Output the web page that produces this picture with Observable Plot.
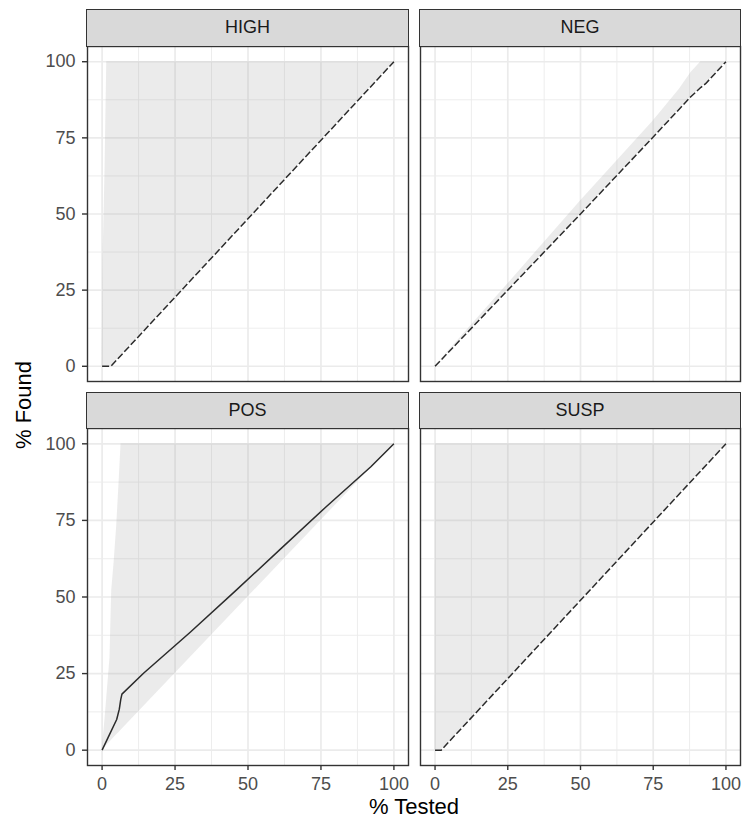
<!DOCTYPE html>
<html>
<head>
<meta charset="utf-8">
<script src="https://cdn.jsdelivr.net/npm/d3@7"></script>
<script src="https://cdn.jsdelivr.net/npm/@observablehq/plot@0.6"></script>
<style>
  html, body { margin: 0; padding: 0; background: #fff; }
  #wrap { position: relative; width: 742px; height: 821px; font-family: "Liberation Sans", Arial, sans-serif; }
  .strip { position: absolute; box-sizing: border-box; background: #D9D9D9; border: 1.4px solid #333333;
           color: #1A1A1A; font-size: 18px; display: flex; align-items: center; justify-content: center; }
  .panel { position: absolute; }
  .panel svg { display: block; overflow: visible; }
  .title { position: absolute; font-size: 22px; line-height: 1; color: #000; white-space: nowrap; }
</style>
</head>
<body>
<div id="wrap"></div>
<script>
// ---------- data ----------
const facets = ["HIGH", "NEG", "POS", "SUSP"];
const tickValues = [0, 25, 50, 75, 100];
const minorValues = [12.5, 37.5, 62.5, 87.5];
const xTitle = "% Tested";
const yTitle = "% Found";

// HIGH
const highTested = [0, 3, 100];
const highFound = [0, 0, 100];
const highBandTested = [0, 0.3, 1.0, 1.6, 3, 100];
const highBandLow = [0, 0, 0, 0, 0, 100];
const highBandHigh = [0, 34, 64, 100, 100, 100];

// NEG
const negTested = [0, 25, 50, 75, 84, 88, 91.4, 93, 100];
const negFound = [0, 25, 50, 75.3, 84.5, 88.6, 91.6, 92.8, 100];
const negBandTested = [0, 25, 50, 75, 84, 88, 91.4, 93, 100];
const negBandLow = [0, 25, 50, 75.3, 84.5, 88.6, 91.6, 92.8, 100];
const negBandHigh = [0, 27, 54.3, 80.5, 91, 96.5, 100, 100, 100];

// POS
const posTested = [0, 2, 5, 5.9, 6.4, 6.8, 14.2, 30.2, 45.7, 61.2, 76.6, 92.1, 100];
const posFound = [0, 4, 10, 13.4, 16.6, 18.3, 25.1, 38.5, 52, 65.7, 79.3, 92.5, 100];
const posBandTested = [0, 1.0, 2.7, 3.3, 4.1, 5.0, 5.8, 6.5, 100];
const posBandLow = [0, 1.0, 2.7, 3.3, 4.1, 5.0, 5.8, 6.5, 100];
const posBandHigh = [0, 10, 30, 52, 61, 73, 87, 100, 100];

// SUSP
const suspTested = [0, 2.1, 100];
const suspFound = [0, 0, 100];
const suspBandTested = [0, 0.1, 2.1, 100];
const suspBandLow = [0, 0, 0, 100];
const suspBandHigh = [0, 100, 100, 100];

const series = {
  HIGH: {tested: highTested, found: highFound, bx: highBandTested, lo: highBandLow, hi: highBandHigh, dashed: true},
  NEG:  {tested: negTested,  found: negFound,  bx: negBandTested,  lo: negBandLow,  hi: negBandHigh,  dashed: true},
  POS:  {tested: posTested,  found: posFound,  bx: posBandTested,  lo: posBandLow,  hi: posBandHigh,  dashed: false},
  SUSP: {tested: suspTested, found: suspFound, bx: suspBandTested, lo: suspBandLow, hi: suspBandHigh, dashed: true}
};

// ---------- layout ----------
const layout = {
  HIGH: {left: 0,   top: 45,  ml: 87, mr: 1, mt: 1, mb: 1,  pw: 321, ph: 335, stripTop: 10,  stripH: 36, showY: true,  showX: false},
  NEG:  {left: 419, top: 45,  ml: 1,  mr: 1, mt: 1, mb: 1,  pw: 320, ph: 335, stripTop: 10,  stripH: 36, showY: false, showX: false},
  POS:  {left: 0,   top: 427, ml: 87, mr: 1, mt: 1, mb: 40, pw: 321, ph: 337, stripTop: 393, stripH: 35, showY: true,  showX: true},
  SUSP: {left: 419, top: 427, ml: 1,  mr: 1, mt: 1, mb: 40, pw: 320, ph: 337, stripTop: 393, stripH: 35, showY: false, showX: true}
};

const wrap = document.getElementById("wrap");
const font = "'Liberation Sans', Arial, sans-serif";

for (const name of facets) {
  const s = series[name];
  const L = layout[name];
  const line = s.tested.map((x, i) => ({x, y: s.found[i]}));
  const band = s.bx.map((x, i) => ({x, lo: s.lo[i], hi: s.hi[i]}));

  const marks = [
    Plot.ruleX(minorValues, {stroke: "#EBEBEB", strokeWidth: 0.9}),
    Plot.ruleY(minorValues, {stroke: "#EBEBEB", strokeWidth: 0.9}),
    Plot.ruleX(tickValues, {stroke: "#EBEBEB", strokeWidth: 1.7}),
    Plot.ruleY(tickValues, {stroke: "#EBEBEB", strokeWidth: 1.7}),
    Plot.areaY(band, {x: "x", y1: "lo", y2: "hi", fill: "#999999", fillOpacity: 0.2}),
    Plot.line(line, {x: "x", y: "y", stroke: "#2B2B2B", strokeWidth: 1.5, strokeLinecap: "butt",
                     strokeDasharray: s.dashed ? "7,2.5" : undefined}),
    Plot.frame({stroke: "#333333", strokeWidth: 1.4})
  ];
  if (L.showY) marks.push(Plot.axisY({ticks: tickValues, tickSize: 5, tickPadding: 7, stroke: "#333333",
                                      strokeWidth: 1.4, fill: "#4D4D4D", fontSize: 18, label: null}));
  if (L.showX) marks.push(Plot.axisX({ticks: tickValues, tickSize: 5, tickPadding: 7, stroke: "#333333",
                                      strokeWidth: 1.4, fill: "#4D4D4D", fontSize: 18, label: null}));

  const chart = Plot.plot({
    width: L.ml + L.pw + L.mr,
    height: L.mt + L.ph + L.mb,
    marginLeft: L.ml, marginRight: L.mr, marginTop: L.mt, marginBottom: L.mb,
    x: {domain: [-5, 105], axis: null},
    y: {domain: [-5, 105], axis: null},
    style: {fontFamily: font, fontSize: "18px", background: "transparent", overflow: "visible"},
    marks
  });
  const holder = document.createElement("div");
  holder.className = "panel";
  holder.style.left = L.left + "px";
  holder.style.top = L.top + "px";
  holder.appendChild(chart);
  wrap.appendChild(holder);

  const strip = document.createElement("div");
  strip.className = "strip";
  const x0 = L.left + L.ml;
  strip.style.left = (x0 - 0.7) + "px";
  strip.style.top = (L.stripTop - 0.7) + "px";
  strip.style.width = (L.pw + 1.4) + "px";
  strip.style.height = (L.stripH + 1.4) + "px";
  strip.textContent = name;
  wrap.appendChild(strip);
}

// axis titles
const xt = document.createElement("div");
xt.className = "title";
xt.textContent = xTitle;
xt.style.left = "414px"; xt.style.top = "806.5px";
xt.style.transform = "translate(-50%, -50%)";
wrap.appendChild(xt);

const yt = document.createElement("div");
yt.className = "title";
yt.textContent = yTitle;
yt.style.left = "24px"; yt.style.top = "405px";
yt.style.transform = "translate(-50%, -50%) rotate(-90deg)";
wrap.appendChild(yt);
</script>
</body>
</html>
